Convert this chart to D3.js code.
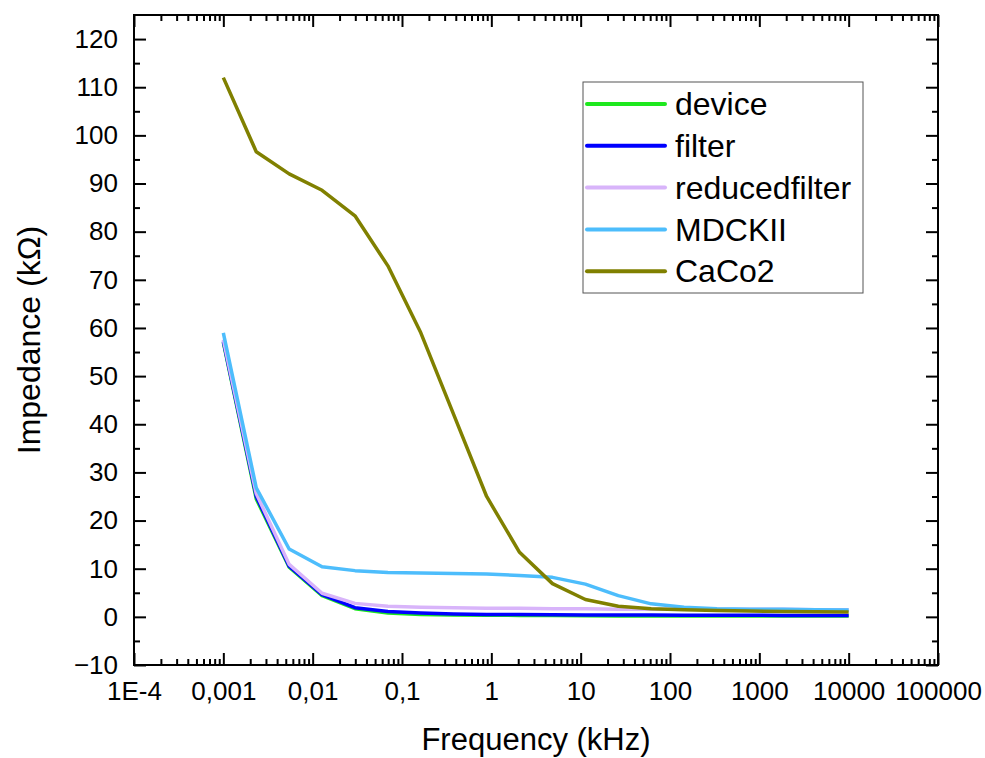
<!DOCTYPE html>
<html>
<head>
    <meta charset="utf-8">
    <title>Impedance vs Frequency</title>
    <script src="https://d3js.org/d3.v7.min.js"></script>
    <style>
        body {
            margin: 0;
            padding: 0;
            background-color: #ffffff;
            font-family: "Liberation Sans", Arial, sans-serif;
        }
    </style>
</head>
<body>
    <div id="chart"></div>

    <script>
        // Data (frequency in kHz, impedance in kOhm)
        const frequencies = [0.001, 0.002336, 0.005456, 0.01274, 0.02976, 0.06952, 0.1624, 0.3793, 0.8859, 2.069,
                             4.833, 11.29, 26.37, 61.58, 143.8, 336.0, 784.8, 1833, 4281, 10000];
        const device        = [57.0, 24.5, 10.3, 4.4, 1.7, 0.8, 0.5, 0.4, 0.35, 0.3, 0.3, 0.25, 0.2, 0.2, 0.2, 0.2, 0.2, 0.2, 0.2, 0.2];
        const filter        = [57.2, 25.0, 10.5, 4.6, 1.9, 1.1, 0.8, 0.6, 0.5, 0.5, 0.45, 0.4, 0.4, 0.4, 0.35, 0.35, 0.35, 0.3, 0.3, 0.3];
        const reducedfilter = [57.6, 25.6, 10.9, 4.9, 2.8, 2.2, 2.0, 1.9, 1.8, 1.8, 1.7, 1.7, 1.6, 1.6, 1.6, 1.6, 1.6, 1.6, 1.5, 1.5];
        const mdckii        = [59.0, 26.8, 14.1, 10.4, 9.6, 9.2, 9.1, 9.0, 8.9, 8.6, 8.2, 6.8, 4.4, 2.7, 2.0, 1.7, 1.6, 1.6, 1.5, 1.4];
        const caco2         = [112.0, 96.6, 92.0, 88.6, 83.3, 72.9, 59.0, 42.0, 25.0, 13.4, 6.9, 3.6, 2.2, 1.7, 1.5, 1.3, 1.2, 1.1, 1.05, 1.0];

        const seriesNames  = ["device", "filter", "reducedfilter", "MDCKII", "CaCo2"];
        const seriesValues = [device, filter, reducedfilter, mdckii, caco2];
        const seriesColors = ["#1ee81e", "#0000ff", "#d8b4fa", "#4dbdfc", "#808000"];

        const xTickValues = [1e-4, 1e-3, 1e-2, 1e-1, 1, 10, 100, 1000, 10000, 100000];
        const xTickLabels = ["1E-4", "0,001", "0,01", "0,1", "1", "10", "100", "1000", "10000", "100000"];
        const yTickValues = [-10, 0, 10, 20, 30, 40, 50, 60, 70, 80, 90, 100, 110, 120];

        const W = 985, H = 758;
        const margin = { top: 15, right: 47, bottom: 93, left: 134 };
        const width = W - margin.left - margin.right;
        const height = H - margin.top - margin.bottom;

        const svg = d3.select("#chart")
            .append("svg")
            .attr("width", W)
            .attr("height", H);

        const g = svg.append("g")
            .attr("transform", `translate(${margin.left},${margin.top})`);

        const x = d3.scaleLog().domain([1e-4, 1e5]).range([0, width]);
        const y = d3.scaleLinear().domain([-10, 125]).range([height, 0]);

        // minor tick positions
        const xMinor = [];
        for (let e = -4; e < 5; e++) {
            for (let m = 2; m <= 9; m++) xMinor.push(m * Math.pow(10, e));
        }
        const yMinor = d3.range(-5, 125, 10);

        function styleAxis(sel) {
            sel.select(".domain").remove();
            sel.selectAll(".tick line").attr("stroke", "#000").attr("stroke-width", 2);
            sel.selectAll("text")
                .style("font-family", "'Liberation Sans', Arial, sans-serif")
                .style("font-size", "26px")
                .attr("fill", "#000");
        }

        // bottom axis
        g.append("g")
            .attr("transform", `translate(0,${height})`)
            .call(d3.axisBottom(x).tickValues(xTickValues)
                .tickFormat((d, i) => xTickLabels[i])
                .tickSizeInner(-12).tickSizeOuter(0).tickPadding(17))
            .call(styleAxis);
        g.append("g")
            .attr("transform", `translate(0,${height})`)
            .call(d3.axisBottom(x).tickValues(xMinor).tickFormat("").tickSizeInner(-6).tickSizeOuter(0))
            .call(styleAxis);

        // top axis
        g.append("g")
            .call(d3.axisTop(x).tickValues(xTickValues).tickFormat("").tickSizeInner(-12).tickSizeOuter(0))
            .call(styleAxis);
        g.append("g")
            .call(d3.axisTop(x).tickValues(xMinor).tickFormat("").tickSizeInner(-6).tickSizeOuter(0))
            .call(styleAxis);

        // left axis
        g.append("g")
            .call(d3.axisLeft(y).tickValues(yTickValues)
                .tickSizeInner(-12).tickSizeOuter(0).tickPadding(16))
            .call(styleAxis);
        g.append("g")
            .call(d3.axisLeft(y).tickValues(yMinor).tickFormat("").tickSizeInner(-6).tickSizeOuter(0))
            .call(styleAxis);

        // right axis
        g.append("g")
            .attr("transform", `translate(${width},0)`)
            .call(d3.axisRight(y).tickValues(yTickValues).tickFormat("").tickSizeInner(-12).tickSizeOuter(0))
            .call(styleAxis);
        g.append("g")
            .attr("transform", `translate(${width},0)`)
            .call(d3.axisRight(y).tickValues(yMinor).tickFormat("").tickSizeInner(-6).tickSizeOuter(0))
            .call(styleAxis);

        // frame
        g.append("rect")
            .attr("width", width)
            .attr("height", height)
            .attr("fill", "none")
            .attr("stroke", "#000")
            .attr("stroke-width", 2);

        // lines
        const line = d3.line()
            .x((d, i) => x(frequencies[i]))
            .y(d => y(d));

        seriesValues.forEach((vals, k) => {
            g.append("path")
                .datum(vals)
                .attr("fill", "none")
                .attr("stroke", seriesColors[k])
                .attr("stroke-width", 3.5)
                .attr("stroke-linejoin", "round")
                .attr("d", line);
        });

        // legend
        const legend = svg.append("g").attr("transform", "translate(583,82)");
        legend.append("rect")
            .attr("width", 280)
            .attr("height", 211)
            .attr("fill", "#fff")
            .attr("stroke", "#555")
            .attr("stroke-width", 1);
        seriesNames.forEach((name, k) => {
            const ly = 22 + k * 41.8;
            legend.append("line")
                .attr("x1", 4).attr("x2", 82)
                .attr("y1", ly).attr("y2", ly)
                .attr("stroke", seriesColors[k])
                .attr("stroke-width", 4)
                .attr("stroke-linecap", "round");
            legend.append("text")
                .attr("x", 92)
                .attr("y", ly)
                .attr("dy", "0.35em")
                .style("font-size", "32px")
                .text(name);
        });

        // axis titles
        svg.append("text")
            .attr("x", margin.left + width / 2)
            .attr("y", 750)
            .attr("text-anchor", "middle")
            .style("font-size", "31px")
            .text("Frequency (kHz)");

        svg.append("text")
            .attr("transform", "rotate(-90)")
            .attr("x", -(margin.top + height / 2))
            .attr("y", 40)
            .attr("text-anchor", "middle")
            .style("font-size", "32px")
            .text("Impedance (kΩ)");
    </script>
</body>
</html>
